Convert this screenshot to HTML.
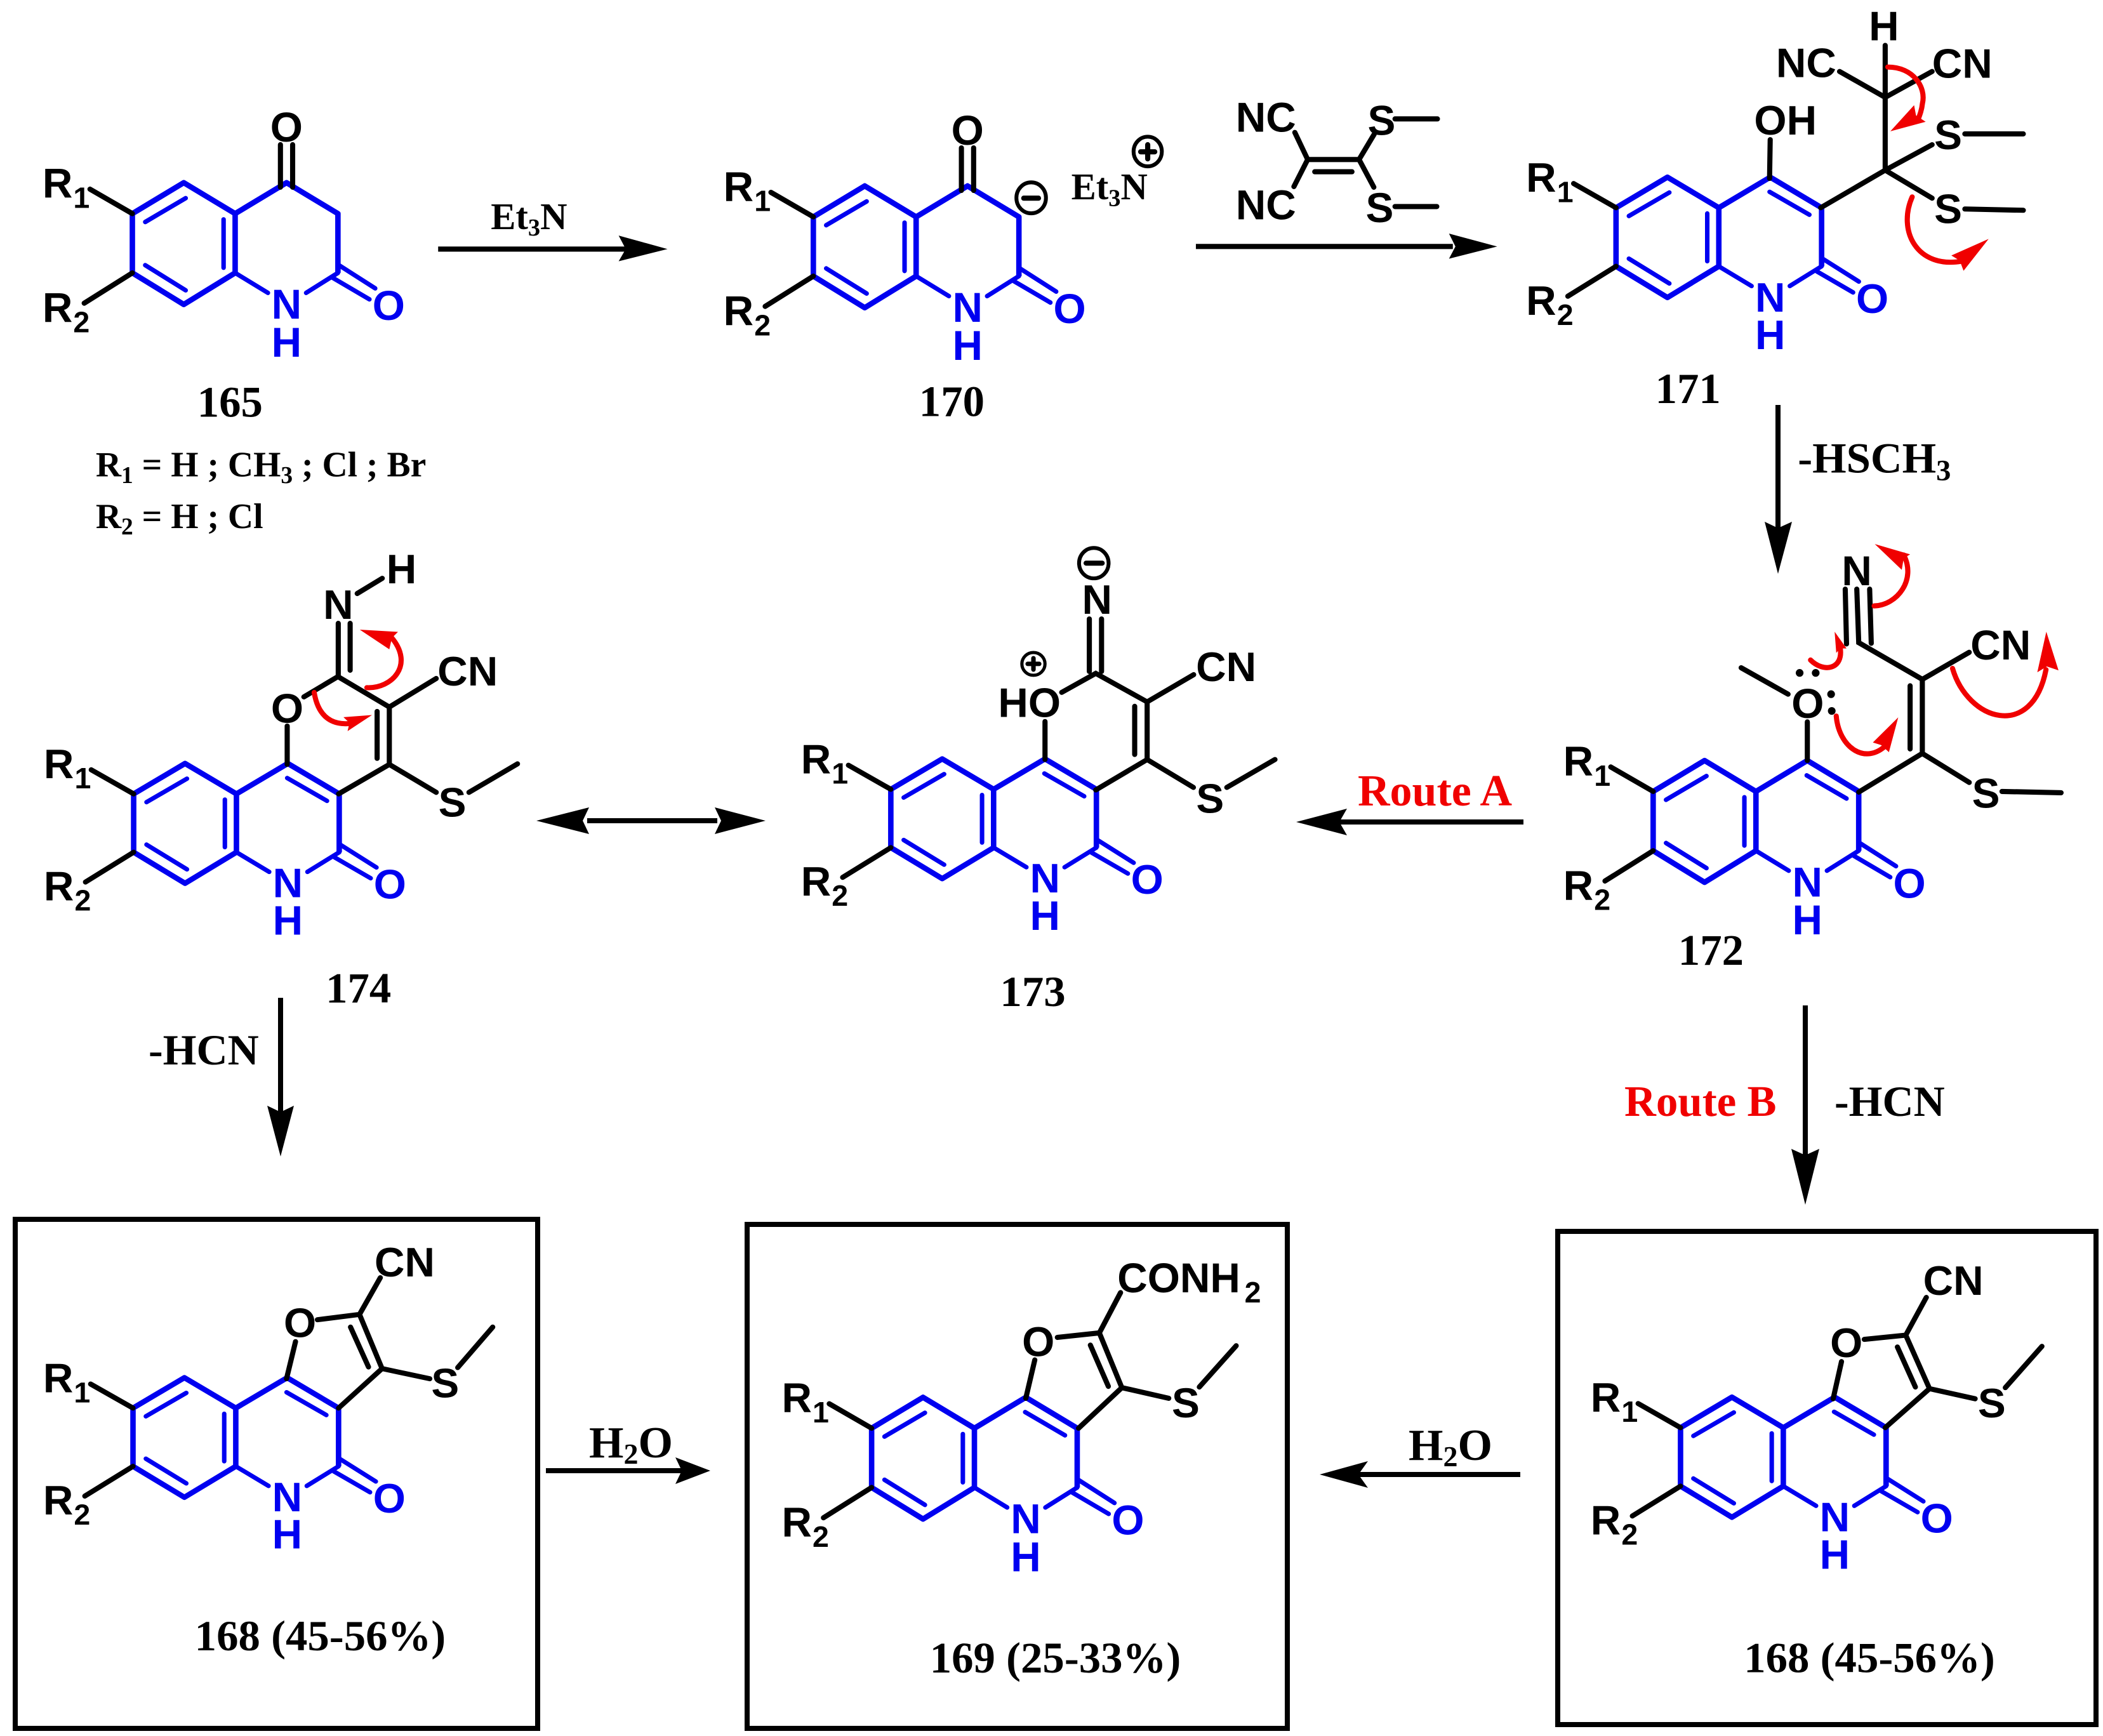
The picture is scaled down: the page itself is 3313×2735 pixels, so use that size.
<!DOCTYPE html>
<html><head><meta charset="utf-8"><style>
html,body{margin:0;padding:0;background:#fff}
svg{display:block}
text{font-family:"Liberation Sans",sans-serif;font-weight:700;font-size:65px;fill:#000}
.s{font-size:46px}
.mid{text-anchor:middle}
.b{fill:#0000f0}
.t{font-family:"Liberation Serif",serif;font-size:68px}
.r{fill:#f00000;font-size:70px}
.k{stroke:#000;stroke-width:8;fill:none;stroke-linecap:round}
.ki{stroke:#000;stroke-width:7;fill:none;stroke-linecap:round}
.rc{stroke:#f00000;stroke-width:8;fill:none;stroke-linecap:round}
.rh{fill:#f00000}
.a{stroke:#000;stroke-width:8;fill:none}
</style></head><body>
<svg xmlns="http://www.w3.org/2000/svg" width="3313" height="2735" viewBox="0 0 3313 2735">
<rect width="3313" height="2735" fill="#fff"/>
<defs>
<g id="q">
<path d="M0 0L-80-48L-160 0V92L-80 141L0 92ZM0 0L80-48L160 0V92" fill="none" stroke="#0000f0" stroke-width="8.5" stroke-linejoin="round"/>
<path d="M0 92L51 123M160 92L110.5 123M-140 13L-77-24M-140 80L-77 119M-18 9V84M160 79L218 116M152.6 100L209 133" fill="none" stroke="#0000f0" stroke-width="7" stroke-linecap="round"/>
<path d="M-160 0L-226-38M-160 92L-235 139" class="k"/>
</g>
<path id="gh" d="M79-25L141 11" fill="none" stroke="#0000f0" stroke-width="7" stroke-linecap="round"/>
</defs>

<!-- 165 -->
<g transform="matrix(1.012,0,0,1.015,-4,-5.5)">
<use href="#q" transform="translate(370,337)"/>
<g transform="translate(370,337)">
<text class="b mid" x="80" y="163">N</text><text class="b mid" x="80" y="222">H</text><text class="b mid" x="239" y="165">O</text>
<text x="-300" y="-25">R</text><text class="s" x="-252" y="-9">1</text><text x="-300" y="168">R</text><text class="s" x="-252" y="184">2</text>
<text class="mid" x="80" y="-112">O</text>
<path d="M70.5-107V-41M89.5-107V-41" class="k"/>
</g>
<text class="t" x="311" y="652">165</text>
<text class="t" style="font-size:55px" x="153" y="745">R<tspan dy="10" style="font-size:37px">1</tspan><tspan dy="-10"> = H ; CH</tspan><tspan dy="10" style="font-size:37px">3</tspan><tspan dy="-10"> ; Cl ; Br</tspan></text>
<text class="t" style="font-size:55px" x="153" y="825">R<tspan dy="10" style="font-size:37px">2</tspan><tspan dy="-10"> = H ; Cl</tspan></text>
<text class="t" style="font-size:58px" x="768" y="361">Et<tspan dy="10" style="font-size:38px">3</tspan><tspan dy="-10">N</tspan></text>
<path d="M686 392H980" class="a"/><path d="M1043 392L967 371L978 392L967 411Z"/>
</g>

<!-- 170 -->
<g transform="matrix(1.012,0,0,1.015,-10.5,-6.5)">
<use href="#q" transform="translate(1436.5,343)"/>
<g transform="translate(1436.5,343)">
<text class="b mid" x="80" y="163">N</text><text class="b mid" x="80" y="222">H</text><text class="b mid" x="239" y="165">O</text>
<text x="-300" y="-25">R</text><text class="s" x="-252" y="-9">1</text><text x="-300" y="168">R</text><text class="s" x="-252" y="184">2</text>
<text class="mid" x="80" y="-112">O</text>
<path d="M70.5-107V-41M89.5-107V-41" class="k"/>
</g>
<ellipse cx="1615.6" cy="313.5" rx="23" ry="24" fill="none" stroke="#000" stroke-width="6"/><path d="M1604 314H1627" class="k"/>
<text class="t" style="font-size:58px;font-weight:700" x="1678" y="316">Et<tspan dy="10" style="font-size:38px">3</tspan><tspan dy="-10">N</tspan></text>
<ellipse cx="1797" cy="241.6" rx="22" ry="23" fill="none" stroke="#000" stroke-width="6"/><path d="M1786 242H1808M1797 231V253" class="k"/>
<text class="t" x="1441" y="652">170</text>
<text x="1934" y="211">NC</text><text x="1934" y="347">NC</text>
<text class="mid" x="2161" y="216">S</text><text class="mid" x="2158" y="351">S</text>
<path d="M2182 191H2248M2182 327H2247M2046 254H2126M2057 273H2115M2026 212L2046 254L2024.6 296M2149.4 215L2126 254L2149 297" class="k"/>
<path d="M1872 389H2272" class="a"/><path d="M2341 389L2266 369L2276 389L2266 408Z"/>
</g>

<!-- 171 -->
<g transform="matrix(1.012,0,0,1.003,-21.6,-2.7)">
<use href="#q" transform="translate(2697,329)"/>
<g transform="translate(2697,329)">
<use href="#gh"/>
<text class="b mid" x="80" y="163">N</text><text class="b mid" x="80" y="222">H</text><text class="b mid" x="239" y="165">O</text>
<text x="-300" y="-25">R</text><text class="s" x="-252" y="-9">1</text><text x="-300" y="168">R</text><text class="s" x="-252" y="184">2</text>
</g>
<text x="2752" y="214">OH</text><text class="mid" x="2954" y="66">H</text><text x="2786" y="124">NC</text><text x="3029" y="125">CN</text>
<text class="mid" x="3054" y="237">S</text><text class="mid" x="3054" y="353">S</text>
<path d="M2777 222L2776 283M2855.6 329L2956 270V74M2885 115L2956 155.6L3029 115M2956 270L3029 230M2956 270L3029 314M3080 213H3171M3080 331L3171 333" class="k"/>
<path class="rc" d="M2960 108C3000 108 3020 140 3014 165C3013 175 3010 183 3007 191"/>
<path class="rh" d="M2964 209L3001 168L3004 184L3019 194Z"/>
<path class="rc" d="M2998 312C2975 365 3005 425 3075 413"/>
<path class="rh" d="M3117 378L3059 404L3072 412L3078 428Z"/>
<text class="t" x="2598" y="636">171</text>
<text class="t" x="2820" y="745">-HSCH<tspan dy="12" style="font-size:46px">3</tspan></text>
</g>
<path d="M2801 638V835" class="a"/><path d="M2801 904L2780 822L2801 832L2823 822Z"/>

<!-- 172 -->
<g transform="matrix(1.012,0,0,1.015,-21.8,-15.75)">
<use href="#q" transform="translate(2755,1244)"/>
<g transform="translate(2755,1244)">
<use href="#gh"/>
<text class="b mid" x="80" y="163">N</text><text class="b mid" x="80" y="222">H</text><text class="b mid" x="239" y="165">O</text>
<text x="-300" y="-25">R</text><text class="s" x="-252" y="-9">1</text><text x="-300" y="168">R</text><text class="s" x="-252" y="184">2</text>
</g>
<text class="mid" x="2835.6" y="1130">O</text><text class="mid" x="2912" y="924">N</text><text class="mid" x="3113" y="1269">S</text><text x="3089" y="1039">CN</text>
<path d="M2835 1196V1136M2805 1093L2732 1052M2915 1245L3014 1185V1070M2995 1080V1178M3014 1185L3087 1230M3138 1244L3230 1246M3014 1070L3087 1028M3014 1070L2915 1013L2912 930M2896 1015L2894 930M2934.5 1014L2932 930" class="k"/>
<circle cx="2823" cy="1060" r="6"/><circle cx="2848" cy="1060" r="6"/><circle cx="2872" cy="1093" r="6"/><circle cx="2873" cy="1119" r="6"/>
<path class="rc" d="M2939 956C2975 955 3005 915 2985 877"/><path class="rh" d="M2940 860L2995 876L2985 882L2982 900Z"/>
<path class="rc" d="M2840 1040C2860 1060 2892 1055 2886 1020"/><path class="rh" d="M2877.5 996L2896 1022L2886 1022L2880 1029Z"/>
<path class="rc" d="M2880 1127C2884 1175 2925 1205 2959 1171"/><path class="rh" d="M2976.5 1129L2937 1168L2950 1172L2962 1183Z"/>
<path class="rc" d="M3061 1053C3085 1135 3185 1165 3206.5 1055"/><path class="rh" d="M3207 996L3193 1059L3208 1050L3226 1056Z"/>
<text class="t" x="2634" y="1513">172</text>
</g>

<!-- 173 -->
<g transform="matrix(1.012,0,0,0.998,-12.4,7)">
<use href="#q" transform="translate(1559,1239)"/>
<g transform="translate(1559,1239)">
<use href="#gh"/>
<text class="b mid" x="80" y="163">N</text><text class="b mid" x="80" y="222">H</text><text class="b mid" x="239" y="165">O</text>
<text x="-300" y="-25">R</text><text class="s" x="-252" y="-9">1</text><text x="-300" y="168">R</text><text class="s" x="-252" y="184">2</text>
</g>
<text x="1566" y="1125">HO</text><text class="mid" x="1720" y="962">N</text><text x="1874" y="1068">CN</text><text class="mid" x="1896" y="1276">S</text>
<ellipse cx="1621" cy="1041" rx="18" ry="18" fill="none" stroke="#000" stroke-width="5"/><path d="M1612 1041H1630M1621 1032V1050" class="ki"/>
<ellipse cx="1715" cy="882" rx="23" ry="24" fill="none" stroke="#000" stroke-width="6"/><path d="M1703 882H1728" class="k"/>
<path d="M1639 1192V1132M1665 1086L1718 1056L1798 1101L1870.4 1058M1708 970V1053M1727 970V1053M1798 1101V1192L1718 1240M1778.6 1108V1184M1798 1192L1870 1236M1922 1236L1997 1192" class="k"/>
<text class="t" x="1569" y="1581">173</text>
</g>
<path d="M2400 1295H2110" class="a"/><path d="M2042 1295L2122 1274L2110 1295L2122 1316Z"/>
<text class="t r" x="2139" y="1269">Route A</text>

<!-- 174 -->
<g transform="matrix(1.012,0,0,0.999,-5,4)">
<use href="#q" transform="translate(373,1248)"/>
<g transform="translate(373,1248)">
<use href="#gh"/>
<text class="b mid" x="80" y="163">N</text><text class="b mid" x="80" y="222">H</text><text class="b mid" x="239" y="165">O</text>
<text x="-300" y="-25">R</text><text class="s" x="-252" y="-9">1</text><text x="-300" y="168">R</text><text class="s" x="-252" y="184">2</text>
</g>
<text class="mid" x="452" y="1135.5">O</text><text class="mid" x="531.5" y="972">N</text><text class="mid" x="630" y="916">H</text><text x="686" y="1077">CN</text><text class="mid" x="709" y="1284">S</text>
<path d="M452 1201.5V1141M478 1095L531 1063L611 1111L684 1066M531.5 979V1063M550 979V1053M561 932L600 908M611 1111V1201.5L532 1248M592 1118V1192M611 1201.5L684 1245.6M735 1245.6L810.5 1200.6" class="k"/>
<path class="rc" d="M576 1080.5C615 1082 650 1045 615 1002"/><path class="rh" d="M565 989L624.5 992.5L615 1002L611 1020Z"/>
<path class="rc" d="M494 1088C500 1125 520 1140 550 1137"/><path class="rh" d="M584 1123.6L539.6 1127L549 1136L546 1149Z"/>
<text class="t" x="512" y="1577">174</text>
</g>
<path d="M925 1293H1130" class="a"/><path d="M845 1293L928 1272L918 1293L928 1314Z"/><path d="M1206 1293L1126 1272L1136 1293L1126 1314Z"/>
<path d="M442 1572V1760" class="a"/><path d="M442 1822L421 1742L442 1752L463 1742Z"/>
<text class="t" x="234" y="1677">-HCN</text>
<path d="M2844 1584V1820" class="a"/><path d="M2844 1898L2822 1810L2844 1820L2866 1810Z"/>
<text class="t r" style="font-size:69px" x="2559" y="1758">Route B</text>
<text class="t" x="2890" y="1758">-HCN</text>

<!-- boxes -->
<rect x="24" y="1921" width="823" height="802" fill="none" stroke="#000" stroke-width="8"/>
<rect x="1177" y="1929" width="851" height="794" fill="none" stroke="#000" stroke-width="8"/>
<rect x="2454" y="1940" width="848" height="777" fill="none" stroke="#000" stroke-width="8"/>

<!-- 168 L -->
<g transform="matrix(1.012,0,0,0.997,-3,15)">
<use href="#q" transform="translate(370,2210)"/>
<g transform="translate(370,2210)">
<use href="#gh"/>
<text class="b mid" x="80" y="163">N</text><text class="b mid" x="80" y="222">H</text><text class="b mid" x="239" y="165">O</text>
<text x="-300" y="-25">R</text><text class="s" x="-252" y="-9">1</text><text x="-300" y="168">R</text><text class="s" x="-252" y="184">2</text>
</g>
<text class="mid" x="470" y="2098">O</text><text x="586" y="2002">CN</text><text class="mid" x="696" y="2193">S</text>
<path d="M449 2163.6L463 2105M497 2070.4L562.6 2062L595 2004M562.6 2062L597.7 2147.6L530 2210M548.6 2082L576.6 2145M597.7 2147.6L672 2163.6M715.5 2146L770 2082" class="k"/>
<text class="t" x="306" y="2593">168 (45-56%)</text>
</g>
<path d="M860 2317H1075" class="a"/><path d="M1119 2317L1064 2296L1074 2317L1064 2338Z"/>
<text class="t" style="font-size:70px" x="928" y="2296">H<tspan dy="10" style="font-size:46px">2</tspan><tspan dy="-10">O</tspan></text>

<!-- 169 -->
<g transform="matrix(1.012,0,0,1.015,-12.8,-24.5)">
<use href="#q" transform="translate(1529.5,2241)"/>
<g transform="translate(1529.5,2241)">
<use href="#gh"/>
<text class="b mid" x="80" y="163">N</text><text class="b mid" x="80" y="222">H</text><text class="b mid" x="239" y="165">O</text>
<text x="-300" y="-25">R</text><text class="s" x="-252" y="-9">1</text><text x="-300" y="168">R</text><text class="s" x="-252" y="184">2</text>
</g>
<text class="mid" x="1629" y="2129">O</text><text x="1752" y="2030">CONH</text><text class="s" x="1950" y="2046">2</text><text class="mid" x="1858.5" y="2224">S</text>
<path d="M1609.5 2194.5L1623.5 2135M1658.6 2100L1724 2093L1757 2030.5M1724 2093L1759 2178L1691.6 2241M1710 2112L1738 2176M1759 2178L1832 2194.5M1879.6 2177L1937 2113" class="k"/>
<text class="t" x="1460" y="2620">169 (25-33%)</text>
</g>
<path d="M2395 2323H2130" class="a"/><path d="M2079 2323L2155 2302L2140 2323L2155 2344Z"/>
<text class="t" style="font-size:70px" x="2219" y="2300">H<tspan dy="10" style="font-size:46px">2</tspan><tspan dy="-10">O</tspan></text>

<!-- 168 R -->
<g transform="matrix(1.012,0,0,1.001,-21.6,6)">
<use href="#q" transform="translate(2797.4,2241)"/>
<g transform="translate(2797.4,2241)">
<use href="#gh"/>
<text class="b mid" x="80" y="163">N</text><text class="b mid" x="80" y="222">H</text><text class="b mid" x="239" y="165">O</text>
<text x="-300" y="-25">R</text><text class="s" x="-252" y="-9">1</text><text x="-300" y="168">R</text><text class="s" x="-252" y="184">2</text>
</g>
<text class="mid" x="2895.6" y="2130">O</text><text x="3015" y="2032">CN</text><text class="mid" x="3122" y="2225">S</text>
<path d="M2875 2195.5L2888 2137M2923.4 2102L2988 2095.4L3020 2036M2988 2095.4L3025 2179.6L2956 2241M2975 2114L3003 2177M3025 2179.6L3096 2195.5M3143 2178L3200 2113" class="k"/>
<text class="t" x="2736" y="2626">168 (45-56%)</text>
</g>
</svg>
</body></html>
